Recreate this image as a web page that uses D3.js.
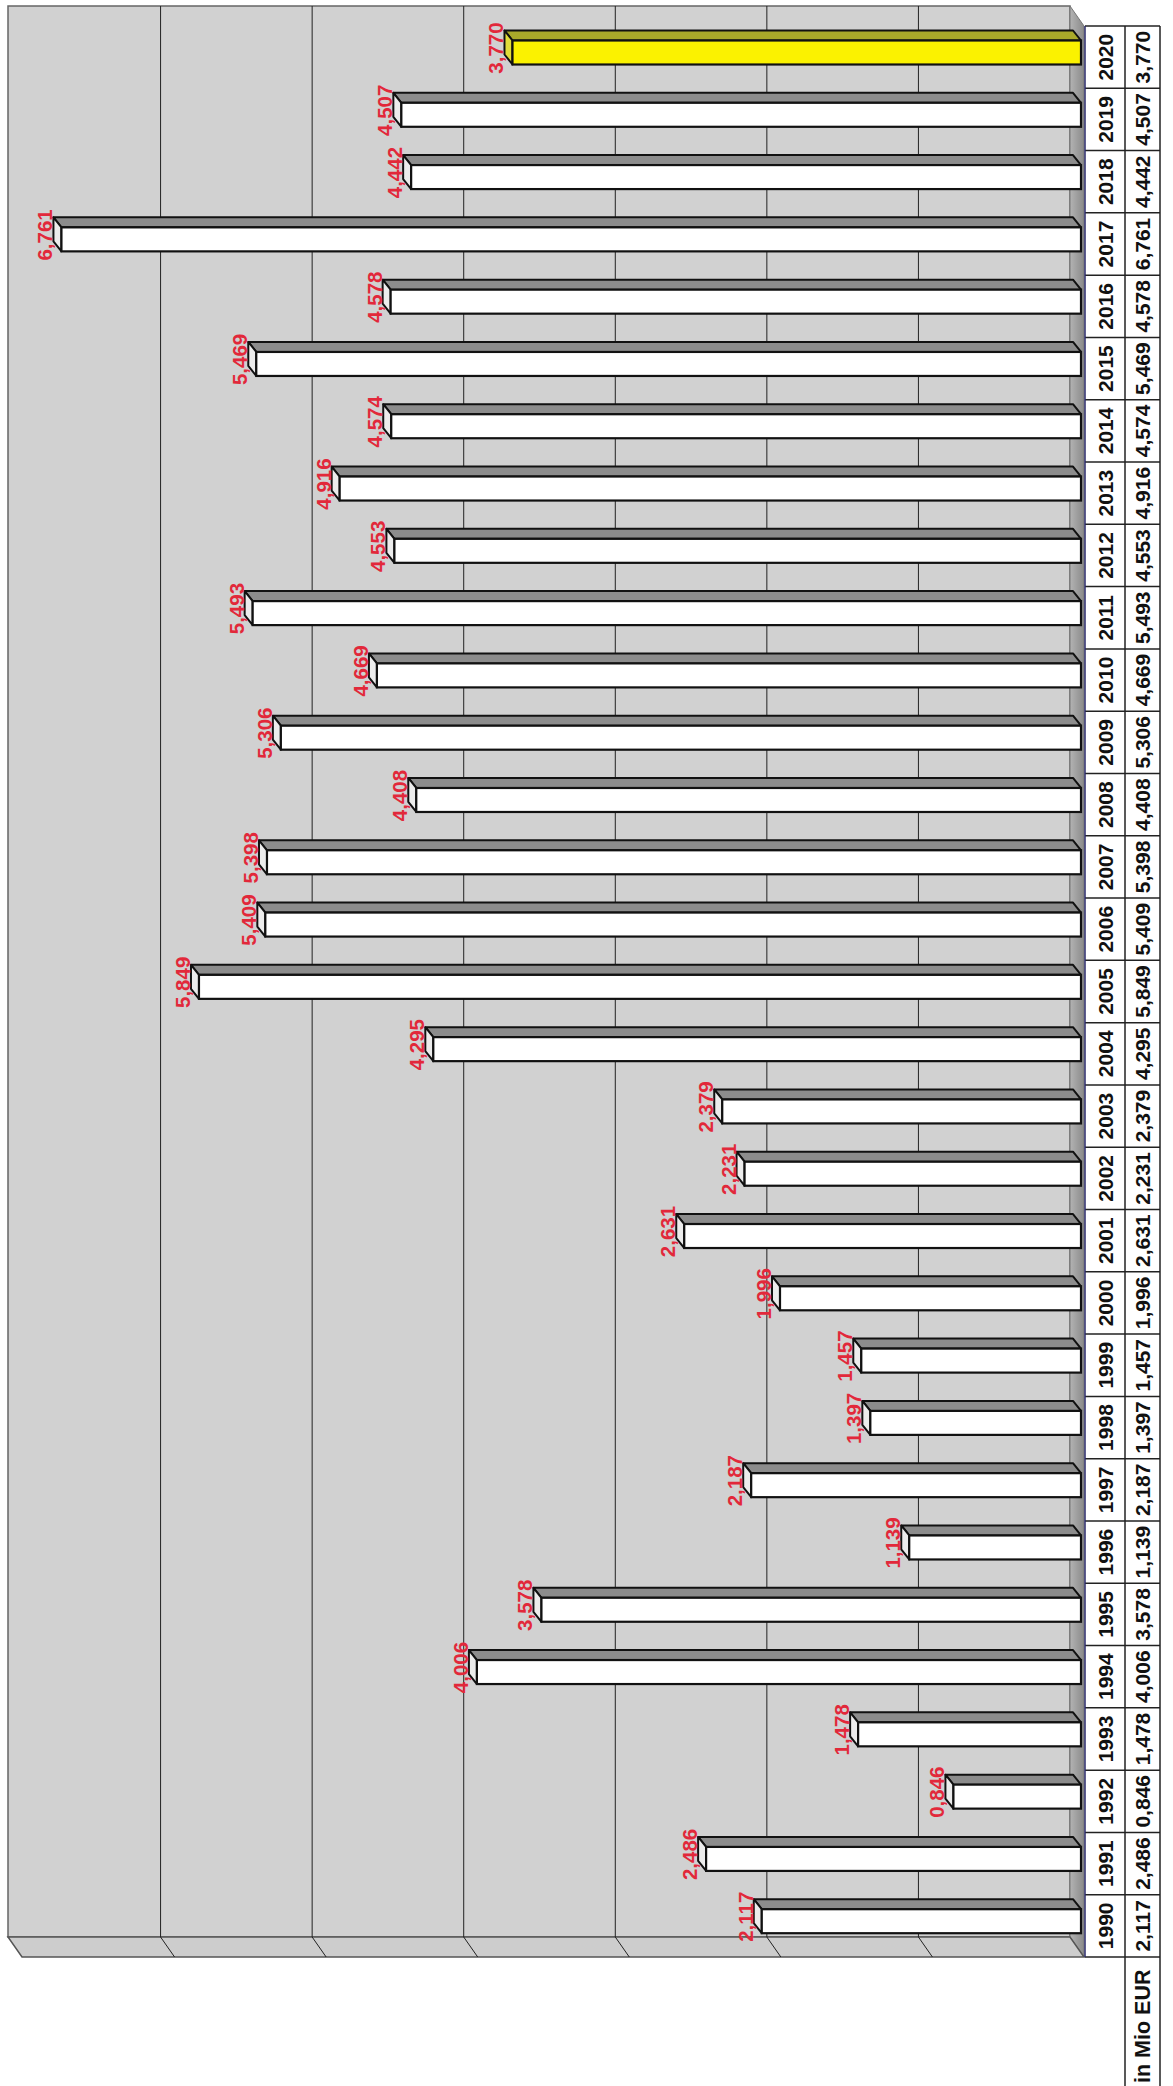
<!DOCTYPE html>
<html>
<head>
<meta charset="utf-8">
<script src="https://cdn.jsdelivr.net/npm/d3@7"></script>
<style>
  body { margin: 0; background: #fff; }
  svg { display: block; }
  text { font-family: "Liberation Sans", Arial, sans-serif; font-weight: bold; }
</style>
</head>
<body>
<svg></svg>
<script>
const years = ['1990', '1991', '1992', '1993', '1994', '1995', '1996', '1997', '1998', '1999',
  '2000', '2001', '2002', '2003', '2004', '2005', '2006', '2007', '2008', '2009',
  '2010', '2011', '2012', '2013', '2014', '2015', '2016', '2017', '2018', '2019', '2020'];
const values = [2.117, 2.486, 0.846, 1.478, 4.006, 3.578, 1.139, 2.187, 1.397, 1.457,
  1.996, 2.631, 2.231, 2.379, 4.295, 5.849, 5.409, 5.398, 4.408, 5.306,
  4.669, 5.493, 4.553, 4.916, 4.574, 5.469, 4.578, 6.761, 4.442, 4.507, 3.770];
const highlightYear = '2020';
const seriesName = 'in Mio EUR';
const gridTicks = [1, 2, 3, 4, 5, 6];
const valueMax = 7;

const [svgWidth, svgHeight] = [1173, 2086];
const svg = d3.select('svg')
  .attr('width', svgWidth)
  .attr('height', svgHeight);

const data = years.map((y, i) => ({ year: y, val: values[i] }));
const fmt = v => d3.format('.3f')(v).replace('.', ',');

// chart is drawn turned by 90 degrees: value axis runs right -> left
const wall = { left: 8, right: 1070, top: 6, bottom: 1937 };
const depth = [14, 20];      // back wall -> front of floor
const barDepth = [8, 10];    // depth of each bar
const xBack = d3.scaleLinear().domain([0, valueMax]).range([wall.right, 9]);
const xFront = d3.scaleLinear().domain([0, valueMax]).range([1081, 25.4]);
const yScale = d3.scaleBand()
  .domain(years.slice().reverse())
  .range([wall.top + depth[1], wall.bottom + depth[1]]);

const defs = svg.append('defs');
const grad = defs.append('linearGradient').attr('id', 'floorGrad')
  .attr('x1', 0).attr('x2', 1).attr('y1', 0).attr('y2', 0);
grad.append('stop').attr('offset', 0).attr('stop-color', '#b3b3b3');
grad.append('stop').attr('offset', 1).attr('stop-color', '#8a8a8a');

const g = svg.append('g');

// back wall
g.append('rect')
  .attr('x', wall.left).attr('y', wall.top)
  .attr('width', wall.right - wall.left).attr('height', wall.bottom - wall.top)
  .attr('fill', '#d1d1d1')
  .attr('stroke', '#666').attr('stroke-width', 1.5);

// floor (right strip)
g.append('polygon')
  .attr('points', [
    [wall.right, wall.top], [wall.right + depth[0], wall.top + depth[1]],
    [wall.right + depth[0], wall.bottom + depth[1]], [wall.right, wall.bottom]
  ].join(' '))
  .attr('fill', 'url(#floorGrad)')
  .attr('stroke', '#777').attr('stroke-width', 1);

// side wall (bottom strip)
g.append('polygon')
  .attr('points', [
    [wall.left, wall.bottom], [wall.right, wall.bottom],
    [wall.right + depth[0], wall.bottom + depth[1]], [wall.left + depth[0], wall.bottom + depth[1]]
  ].join(' '))
  .attr('fill', '#cdcdcd')
  .attr('stroke', '#555').attr('stroke-width', 1.5);

// gridlines
const grid = g.selectAll('g.grid').data(gridTicks).enter()
  .append('g').classed('grid', true);
grid.append('line')
  .attr('x1', d => xBack(d)).attr('x2', d => xBack(d))
  .attr('y1', wall.top).attr('y2', wall.bottom)
  .attr('stroke', '#222').attr('stroke-width', 1);
grid.append('line')
  .attr('x1', d => xBack(d)).attr('x2', d => xBack(d) + depth[0])
  .attr('y1', wall.bottom).attr('y2', wall.bottom + depth[1])
  .attr('stroke', '#222').attr('stroke-width', 1);

// bars
const bars = g.selectAll('g.bar').data(data).enter()
  .append('g').classed('bar', true);
const faceTop = d => yScale(d.year) + 14.5;
const faceH = 24;
const [dx, dy] = barDepth;

bars.append('polygon')
  .attr('points', d => {
    const x0 = xFront(0), x1 = xFront(d.val), yt = faceTop(d);
    return [[x1, yt], [x0, yt], [x0 - dx, yt - dy], [x1 - dx, yt - dy]].join(' ');
  })
  .attr('fill', d => d.year === highlightYear ? '#a9a92a' : '#8c8c8c')
  .attr('stroke', '#111').attr('stroke-width', 2).attr('stroke-linejoin', 'round');
bars.append('polygon')
  .attr('points', d => {
    const x1 = xFront(d.val), yt = faceTop(d);
    return [[x1, yt], [x1, yt + faceH], [x1 - dx, yt + faceH - dy], [x1 - dx, yt - dy]].join(' ');
  })
  .attr('fill', d => d.year === highlightYear ? '#e0dc3a' : '#ececec')
  .attr('stroke', '#111').attr('stroke-width', 2).attr('stroke-linejoin', 'round');
bars.append('rect')
  .attr('x', d => xFront(d.val))
  .attr('y', d => faceTop(d))
  .attr('width', d => xFront(0) - xFront(d.val))
  .attr('height', faceH)
  .attr('fill', d => d.year === highlightYear ? '#fbf200' : '#fff')
  .attr('stroke', '#111').attr('stroke-width', 2.2);

bars.append('text')
  .attr('transform', d => `translate(${xFront(d.val) - dx - 1}, ${yScale(d.year) + 22}) rotate(-90)`)
  .attr('text-anchor', 'middle')
  .attr('font-size', 20.5)
  .attr('fill', '#e2283a')
  .text(d => fmt(d.val));

// data table
const tab = { left: 1085, mid: 1125, right: 1160 };
const tg = svg.append('g');
const rows = tg.selectAll('g.row').data(data).enter()
  .append('g').classed('row', true);
rows.append('rect')
  .attr('x', tab.left).attr('y', d => yScale(d.year))
  .attr('width', tab.right - tab.left).attr('height', yScale.bandwidth())
  .attr('fill', '#fff');
rows.append('text')
  .attr('transform', d => `translate(${(tab.left + tab.mid) / 2}, ${yScale(d.year) + yScale.bandwidth() / 2}) rotate(-90)`)
  .attr('text-anchor', 'middle').attr('dy', '0.36em')
  .attr('font-size', 21).attr('fill', '#111')
  .text(d => d.year);
rows.append('text')
  .attr('transform', d => `translate(${(tab.mid + tab.right) / 2}, ${yScale(d.year) + yScale.bandwidth() / 2}) rotate(-90)`)
  .attr('text-anchor', 'middle').attr('dy', '0.36em')
  .attr('font-size', 21).attr('fill', '#111')
  .text(d => fmt(d.val));

const [tTop, tBottom] = yScale.range();
tg.selectAll('line.h').data(years.concat(['end'])).enter()
  .append('line').classed('h', true)
  .attr('x1', tab.left).attr('x2', tab.right)
  .attr('y1', d => d === 'end' ? tTop : yScale(d) + yScale.bandwidth())
  .attr('y2', d => d === 'end' ? tTop : yScale(d) + yScale.bandwidth())
  .attr('stroke', '#222').attr('stroke-width', 1.5);
tg.append('line')
  .attr('x1', tab.left).attr('x2', tab.left).attr('y1', tTop).attr('y2', tBottom)
  .attr('stroke', '#2a2a6a').attr('stroke-width', 1.5);
tg.append('line')
  .attr('x1', tab.mid).attr('x2', tab.mid).attr('y1', tTop).attr('y2', svgHeight)
  .attr('stroke', '#222').attr('stroke-width', 1.5);
tg.append('line')
  .attr('x1', tab.right).attr('x2', tab.right).attr('y1', tTop).attr('y2', svgHeight)
  .attr('stroke', '#222').attr('stroke-width', 1.5);
tg.append('text')
  .attr('transform', `translate(${(tab.mid + tab.right) / 2}, ${svgHeight - 3}) rotate(-90)`)
  .attr('text-anchor', 'start').attr('dy', '0.36em')
  .attr('font-size', 21.5).attr('fill', '#111')
  .text(seriesName);
</script>
</body>
</html>
